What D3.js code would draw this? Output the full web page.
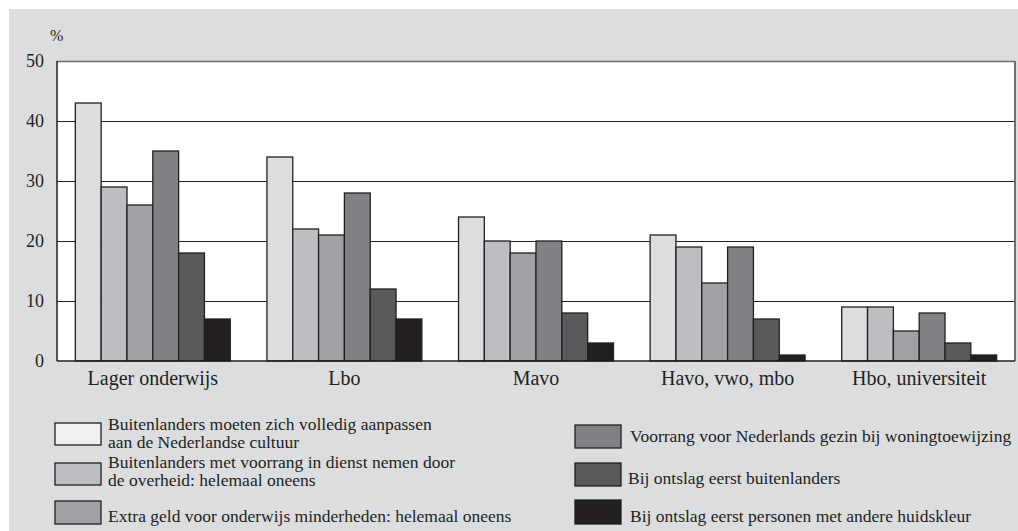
<!DOCTYPE html>
<html><head><meta charset="utf-8">
<script src="https://cdn.jsdelivr.net/npm/d3@7"></script>
<style>body{margin:0;background:#fff}svg{display:block}</style>
</head><body>
<svg id="c" width="1018" height="531"></svg>
<script>
const categories = ["Lager onderwijs","Lbo","Mavo","Havo, vwo, mbo","Hbo, universiteit"];
const seriesNames = [
  "Buitenlanders moeten zich volledig aanpassen|aan de Nederlandse cultuur",
  "Buitenlanders met voorrang in dienst nemen door|de overheid: helemaal oneens",
  "Extra geld voor onderwijs minderheden: helemaal oneens",
  "Voorrang voor Nederlands gezin bij woningtoewijzing",
  "Bij ontslag eerst buitenlanders",
  "Bij ontslag eerst personen met andere huidskleur"
];
const s1 = [43,34,24,21,9];
const s2 = [29,22,20,19,9];
const s3 = [26,21,18,13,5];
const s4 = [35,28,20,19,8];
const s5 = [18,12,8,7,3];
const s6 = [7,7,3,1,1];
const seriesValues = [s1,s2,s3,s4,s5,s6];
const yTicks = [0,10,20,30,40,50];
const colors = ["#dcdddf","#bdbec1","#a0a1a4","#808184","#58595b","#231f20"];

const svg = d3.select("#c");
const font = "'Liberation Serif', 'Times New Roman', serif";
const ink = "#231f20";

// panel
svg.append("rect").attr("x",9).attr("y",9).attr("width",1009).attr("height",522).attr("fill","#dcdddf");

const L=57, R=1015, T=61, B=361;
const x0 = d3.scaleBand().domain(categories).range([L,R]).padding(0);
const x1 = d3.scaleBand().domain(d3.range(6)).range([0,x0.bandwidth()]).paddingInner(0).paddingOuter(0.71);
const y = d3.scaleLinear().domain([0,50]).range([B,T]);

svg.append("rect").attr("x",L).attr("y",T).attr("width",R-L).attr("height",B-T).attr("fill","#fff");

// gridlines
svg.append("g").selectAll("line").data(yTicks.filter(d=>d>0 && d<50)).join("line")
  .attr("x1",L).attr("x2",R).attr("y1",d=>y(d)+0.5).attr("y2",d=>y(d)+0.5)
  .attr("stroke",ink).attr("stroke-width",1);
// top & right border
svg.append("line").attr("x1",L).attr("x2",R).attr("y1",y(50)+0.5).attr("y2",y(50)+0.5).attr("stroke","#6d6e71").attr("stroke-width",1.5);
svg.append("line").attr("x1",R).attr("x2",R).attr("y1",y(50)).attr("y2",B).attr("stroke","#6d6e71").attr("stroke-width",2);

// bars
const g = svg.append("g");
categories.forEach((c,ci)=>{
  g.append("g").attr("transform",`translate(${x0(c)},0)`)
    .selectAll("rect").data(seriesValues.map((s,si)=>({si,v:s[ci]}))).join("rect")
    .attr("x",d=>x1(d.si)).attr("width",x1.bandwidth())
    .attr("y",d=>y(d.v)).attr("height",d=>y(0)-y(d.v))
    .attr("fill",d=>colors[d.si]).attr("stroke",ink).attr("stroke-width",1.3);
});

// axes lines
svg.append("line").attr("x1",L).attr("x2",L).attr("y1",T).attr("y2",B).attr("stroke",ink).attr("stroke-width",1.5);
svg.append("line").attr("x1",L).attr("x2",R).attr("y1",B).attr("y2",B).attr("stroke",ink).attr("stroke-width",1.5);

// y axis labels
const ya = svg.append("g").attr("transform",`translate(${L},0)`)
  .call(d3.axisLeft(y).tickValues(yTicks).tickSize(0).tickPadding(13));
ya.select(".domain").remove();
ya.selectAll("text").attr("font-family",font).attr("font-size",18).attr("fill",ink);

svg.append("text").attr("x",50).attr("y",41).text("%")
  .attr("font-family",font).attr("font-size",16).attr("fill",ink);

// x axis labels
const xa = svg.append("g").attr("transform",`translate(0,${B})`)
  .call(d3.axisBottom(x0).tickSize(0).tickPadding(10));
xa.select(".domain").remove();
xa.selectAll("text").attr("font-family",font).attr("font-size",20).attr("fill",ink);

// legend
const legPos = [
  {sx:55, sy:423, sw:46, sh:22, tx:108, ty:[430,448]},
  {sx:55, sy:463, sw:46, sh:22, tx:108, ty:[468,486]},
  {sx:55, sy:501, sw:46, sh:23, tx:108, ty:[522]},
  {sx:575, sy:425, sw:46, sh:23, tx:630, ty:[442]},
  {sx:575, sy:463, sw:46, sh:23, tx:628, ty:[484]},
  {sx:575, sy:500, sw:46, sh:24, tx:630, ty:[522]}
];
const leg = svg.append("g");
seriesNames.forEach((n,i)=>{
  const p = legPos[i];
  leg.append("rect").attr("x",p.sx).attr("y",p.sy).attr("width",p.sw).attr("height",p.sh)
    .attr("fill", i===0 ? "#f1f1f2" : colors[i]).attr("stroke",ink).attr("stroke-width",1.3);
  n.split("|").forEach((line,li)=>{
    leg.append("text").attr("x",p.tx).attr("y",p.ty[li]).text(line)
      .attr("font-family",font).attr("font-size",17.5).attr("fill",ink);
  });
});
</script>
</body></html>
